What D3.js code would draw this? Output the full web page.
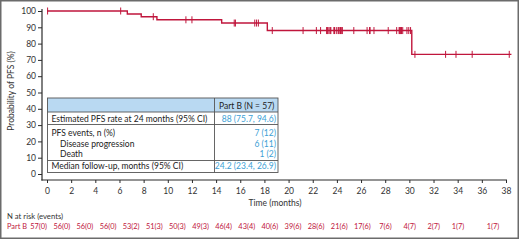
<!DOCTYPE html>
<html><head><meta charset="utf-8">
<script src="https://cdn.jsdelivr.net/npm/d3@7"></script>
<style>
html,body{margin:0;padding:0;background:#fff;}
svg{display:block;font-family:Lato,"Open Sans",sans-serif;}
</style></head>
<body><svg id="c" width="520" height="241"></svg>
<script>
// ---- data ----
const stepTimes = [0, 6.65, 7.8, 9.1, 14.46, 18.24, 30.2];
const stepSurv  = [100, 98.2, 96.5, 94.6, 92.6, 88.0, 73.4];
const endTime = 38.45;
const censorTimes = [0.05, 6.1, 8.8, 11.5, 12.0, 15.5, 15.6, 17.2, 17.35, 17.5, 18.65, 21.2,
  22.3, 22.65, 23.15, 23.2, 23.25, 23.35, 23.45, 23.5, 23.75, 23.8, 23.95,
  24.1, 24.15, 24.25, 24.3, 24.4, 24.45, 25.4,
  26.5, 26.7, 26.75, 27.07,
  28.25, 28.95, 29.15, 29.2, 29.25, 29.3, 29.35, 29.45, 29.8, 29.95,
  30.1, 30.46, 33.0, 33.86, 35.2, 38.27];
const xTicks = [0,2,4,6,8,10,12,14,16,18,20,22,24,26,28,30,32,34,36,38];
const yTicks = [0,10,20,30,40,50,60,70,80,90,100];
const riskMonths = [0,2,4,6,8,10,12,14,16,18,20,22,24,26,28,30,32,34,36,38];
const riskLabels = ["57(0)","56(0)","56(0)","56(0)","53(2)","51(3)","50(3)","49(3)","46(4)","43(4)",
  "40(6)","39(6)","28(6)","21(6)","17(6)","7(6)","4(7)","2(7)","1(7)","1(7)"];
const tableHeader = "Part B (N = 57)";
const tableRows = [
  {label:"Estimated PFS rate at 24 months (95% CI)", value:"88 (75.7, 94.6)", indent:false},
  {label:"PFS events, n (%)", value:"7 (12)", indent:false},
  {label:"Disease progression", value:"6 (11)", indent:true},
  {label:"Death", value:"1 (2)", indent:true},
  {label:"Median follow-up, months (95% CI)", value:"24.2 (23.4, 26.9)", indent:false}
];

// ---- chart ----
const svg = d3.select("#c");
const red = "#c0163c", blue = "#3d9fd6", dark = "#2a2a2a";
const x = d3.scaleLinear().domain([0,38]).range([47,506]);
const y = d3.scaleLinear().domain([0,100]).range([174,11]);

// frame
svg.append("rect").attr("x",0.75).attr("y",0.75).attr("width",517.5).attr("height",237.5)
  .attr("fill","none").attr("stroke","#6b6b6b").attr("stroke-width",1.5);

// y axis
const gy = svg.append("g").attr("transform","translate(42,0)")
  .call(d3.axisLeft(y).tickValues(yTicks).tickSize(4).tickPadding(2));
gy.select(".domain").remove();
gy.selectAll("line").attr("stroke",dark);
gy.selectAll("text").attr("font-size",8.5).attr("fill","#333").attr("font-family","Lato");
svg.append("line").attr("x1",42).attr("x2",42).attr("y1",9).attr("y2",180.5)
  .attr("stroke",dark).attr("stroke-width",1.2);

// x axis
const gx = svg.append("g").attr("transform","translate(0,180)")
  .call(d3.axisBottom(x).tickValues(xTicks).tickSize(3).tickPadding(5));
gx.select(".domain").remove();
gx.selectAll("line").attr("stroke",dark);
gx.selectAll("text").attr("font-size",8.5).attr("fill","#333").attr("font-family","Lato");
svg.append("line").attr("x1",41.4).attr("x2",507).attr("y1",180).attr("y2",180)
  .attr("stroke",dark).attr("stroke-width",1.2);

// axis titles
svg.append("text").attr("transform","translate(11,91) rotate(-90)").attr("text-anchor","middle")
  .attr("dominant-baseline","central").attr("font-size",8.5).attr("fill","#333")
  .text("Probability of PFS (%)");
svg.append("text").attr("x",275).attr("y",202.5).attr("text-anchor","middle")
  .attr("dominant-baseline","central").attr("font-size",8.5).attr("fill","#333")
  .text("Time (months)");

// KM curve
const pts = stepTimes.map((t,i)=>[t, stepSurv[i]]);
pts.push([endTime, stepSurv[stepSurv.length-1]]);
svg.append("path").datum(pts)
  .attr("d", d3.line().x(d=>x(d[0])).y(d=>y(d[1])).curve(d3.curveStepAfter))
  .attr("fill","none").attr("stroke",red).attr("stroke-width",1.4);
function survAt(t){ let s = stepSurv[0]; stepTimes.forEach((st,i)=>{ if (st<=t) s=stepSurv[i]; }); return s; }
svg.append("g").selectAll("line").data(censorTimes).join("line")
  .attr("x1",d=>x(d)).attr("x2",d=>x(d))
  .attr("y1",d=>y(survAt(d))-3.5).attr("y2",d=>y(survAt(d))+3.5)
  .attr("stroke",red).attr("stroke-width",1);

// table
const tL = 47.5, tM = 214.5, tR = 278, tTop = 98, hB = 112, tBot = 172.5;
const rowBounds = [112,124.5,160.5];
const tg = svg.append("g");
tg.append("rect").attr("x",tL).attr("y",tTop).attr("width",tR-tL).attr("height",tBot-tTop)
  .attr("fill","#fff");
tg.append("rect").attr("x",tL).attr("y",tTop).attr("width",tR-tL).attr("height",hB-tTop)
  .attr("fill","#b9d9f2");
rowBounds.forEach(b=>{
  tg.append("line").attr("x1",tL).attr("x2",tR).attr("y1",b).attr("y2",b)
    .attr("stroke","#555").attr("stroke-width",0.9);
});
tg.append("rect").attr("x",tL).attr("y",tTop).attr("width",tR-tL).attr("height",tBot-tTop)
  .attr("fill","none").attr("stroke","#555").attr("stroke-width",0.9);
tg.append("line").attr("x1",tM).attr("x2",tM).attr("y1",tTop).attr("y2",tBot)
  .attr("stroke","#555").attr("stroke-width",0.9);
tg.append("text").attr("x",tM+4.5).attr("y",105.5).attr("dominant-baseline","central")
  .attr("font-size",8.5).attr("fill","#222").text(tableHeader);
const rowY = [118.5, 133.3, 144, 154.3, 166.2];
tableRows.forEach((r,i)=>{
  tg.append("text").attr("x", r.indent ? 60 : 51.5).attr("y",rowY[i]).attr("dominant-baseline","central")
    .attr("font-size",8.5).attr("fill","#222").text(r.label);
  tg.append("text").attr("x", tR-2).attr("y",rowY[i]).attr("dominant-baseline","central")
    .attr("text-anchor","end").attr("font-size",8.5).attr("fill",blue).text(r.value);
});

// risk table
svg.append("text").attr("x",7).attr("y",215.5).attr("dominant-baseline","central")
  .attr("font-size",7.7).attr("fill","#333").text("N at risk (events)");
svg.append("text").attr("x",7).attr("y",226).attr("dominant-baseline","central")
  .attr("font-size",7.4).attr("fill",red).text("Part B");
const rx = d3.scaleLinear().domain([0,30,36,38]).range([38.7,385.5,458,493]);
svg.append("g").selectAll("text").data(riskLabels).join("text")
  .attr("x",(d,i)=>rx(riskMonths[i])).attr("y",226).attr("dominant-baseline","central")
  .attr("text-anchor","middle").attr("font-size",7.4).attr("fill",red).text(d=>d);
</script></body></html>
